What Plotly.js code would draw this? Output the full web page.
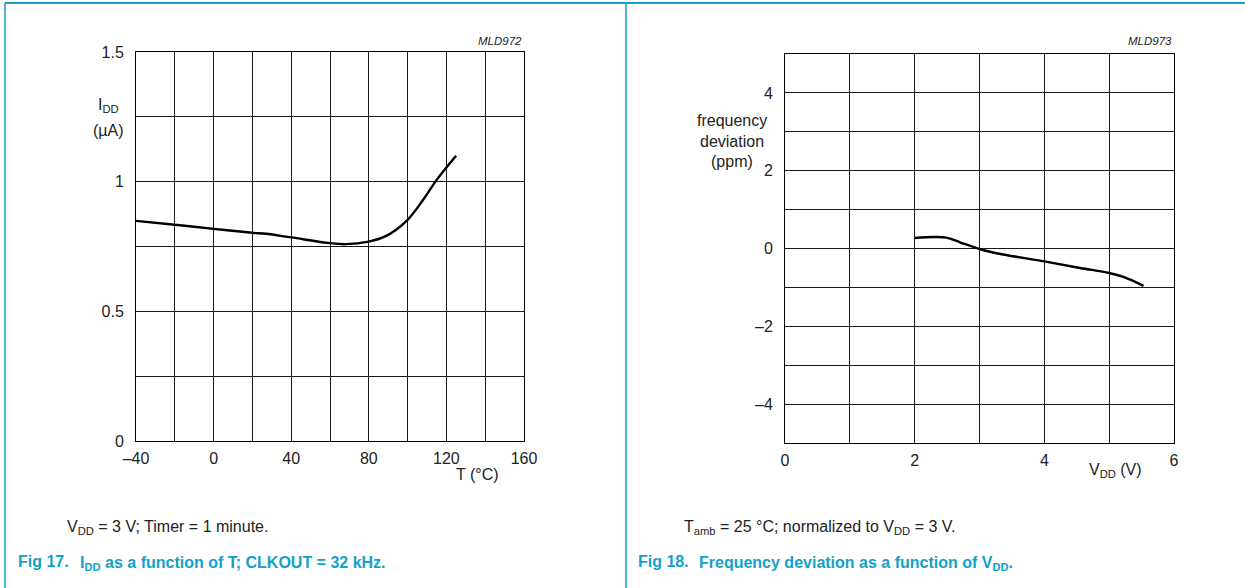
<!DOCTYPE html>
<html>
<head>
<meta charset="utf-8">
<script src="https://cdn.plot.ly/plotly-3.0.1.min.js"></script>
<style>
  html, body { margin: 0; padding: 0; background: #fff; }
  #chart { width: 1245px; height: 588px; }
</style>
</head>
<body>
<div id="chart"></div>
<script>
// ---- Data: Fig 17 (IDD vs T) ----
const tempC = [-40, -20, 0, 20, 27, 40, 60, 68, 80, 89, 100, 108, 115, 125];
const iddUA = [0.849, 0.834, 0.818, 0.803, 0.799, 0.785, 0.763, 0.759, 0.769, 0.791, 0.853, 0.930, 1.007, 1.100];

// ---- Data: Fig 18 (frequency deviation vs VDD) ----
const vddV = [2.0, 2.29, 2.49, 2.7, 3.0, 3.32, 4.0, 4.55, 5.0, 5.22, 5.53];
const freqDevPPM = [0.27, 0.296, 0.28, 0.16, -0.013, -0.14, -0.33, -0.50, -0.63, -0.73, -0.96];

// ---- Tick labels ----
const tTickVals = [-40, -20, 0, 20, 40, 60, 80, 100, 120, 140, 160];
const tTickText = ['\u201340', '', '0', '', '40', '', '80', '', '120', '', '160'];
const iTickVals = [0, 0.25, 0.5, 0.75, 1, 1.25, 1.5];
const iTickText = ['0', '', '0.5', '', '1', '', '1.5'];
const vTickVals = [0, 1, 2, 3, 4, 5, 6];
const vTickText = ['0', '', '2', '', '4', '', '6'];
const fTickVals = [-5, -4, -3, -2, -1, 0, 1, 2, 3, 4, 5];
const fTickText = ['', '\u20134', '', '\u20132', '', '0', '', '2', '', '4', ''];

const W = 1245, H = 588;
const px = x => x / W;
const py = y => 1 - y / H;

const FONT = 'Liberation Sans, Arial, sans-serif';
const CYAN = '#12a1c9';
const GRID = '#1a1a1a';
const TXT = '#222';

function axisBase(vals, text, range, standoff) {
  return {
    range: range, tickmode: 'array', tickvals: vals, ticktext: text,
    showgrid: true, gridcolor: GRID, gridwidth: 1,
    showline: true, linecolor: '#000', linewidth: 1, mirror: true,
    zeroline: false, ticks: '', ticklabelstandoff: standoff,
    tickfont: { family: FONT, size: 16, color: TXT },
    fixedrange: true
  };
}

const traces = [
  { x: tempC, y: iddUA, xaxis: 'x', yaxis: 'y', mode: 'lines',
    line: { color: '#000', width: 2.4, shape: 'spline', smoothing: 1 }, hoverinfo: 'skip' },
  { x: vddV, y: freqDevPPM, xaxis: 'x2', yaxis: 'y2', mode: 'lines',
    line: { color: '#000', width: 2.4, shape: 'spline', smoothing: 1 }, hoverinfo: 'skip' }
];

function ann(text, x, y, opts) {
  return Object.assign({
    text: text, xref: 'paper', yref: 'paper', x: px(x), y: py(y),
    xanchor: 'left', yanchor: 'middle', showarrow: false,
    font: { family: FONT, size: 16, color: TXT }
  }, opts || {});
}

const capFont = { family: FONT, size: 16, color: CYAN };
const smallItalic = { family: FONT, size: 11.5, color: TXT };

const annotations = [
  ann('<i>MLD972</i>', 524, 41, { xanchor: 'right', font: smallItalic }),
  ann('<i>MLD973</i>', 1174, 41, { xanchor: 'right', font: smallItalic }),
  ann('I<sub>DD</sub>', 108, 106, { xanchor: 'center' }),
  ann('(\u00b5A)', 108, 131, { xanchor: 'center' }),
  ann('T (\u00b0C)', 477, 474, { xanchor: 'center' }),
  ann('frequency', 732, 120, { xanchor: 'center' }),
  ann('deviation', 732, 141, { xanchor: 'center' }),
  ann('(ppm)', 732, 162, { xanchor: 'center' }),
  ann('V<sub>DD</sub> (V)', 1115, 470, { xanchor: 'center' }),
  ann('V<sub>DD</sub> = 3 V; Timer = 1 minute.', 65, 527),
  ann('T<sub>amb</sub> = 25 \u00b0C; normalized to V<sub>DD</sub> = 3 V.', 682, 527),
  ann('<b>Fig 17.</b>', 16, 561, { font: capFont }),
  ann('<b>I<sub>DD</sub> as a function of T; CLKOUT = 32 kHz.</b>', 78, 563, { font: capFont }),
  ann('<b>Fig 18.</b>', 636, 561, { font: capFont }),
  ann('<b>Frequency deviation as a function of V<sub>DD</sub>.</b>', 697, 563, { font: capFont })
];

const shapes = [
  { type: 'line', xref: 'paper', yref: 'paper', x0: px(5), x1: px(1245), y0: py(3), y1: py(3), line: { color: CYAN, width: 2 } },
  { type: 'line', xref: 'paper', yref: 'paper', x0: px(5), x1: px(5), y0: py(3), y1: 0, line: { color: CYAN, width: 1.5 } },
  { type: 'line', xref: 'paper', yref: 'paper', x0: px(626), x1: px(626), y0: py(3), y1: 0, line: { color: CYAN, width: 1.5 } }
];

const layout = {
  width: W, height: H,
  margin: { l: 0, r: 0, t: 0, b: 0 },
  paper_bgcolor: '#fff', plot_bgcolor: '#fff',
  showlegend: false,
  xaxis: Object.assign(axisBase(tTickVals, tTickText, [-40, 160], 3), { domain: [px(136), px(524)], anchor: 'y' }),
  yaxis: Object.assign(axisBase(iTickVals, iTickText, [0, 1.5], 8), { domain: [py(441), py(52)], anchor: 'x' }),
  xaxis2: Object.assign(axisBase(vTickVals, vTickText, [0, 6], 3), { domain: [px(785), px(1174)], anchor: 'y2' }),
  yaxis2: Object.assign(axisBase(fTickVals, fTickText, [-5, 5], 8), { domain: [py(443), py(54)], anchor: 'x2' }),
  annotations: annotations,
  shapes: shapes
};

Plotly.newPlot('chart', traces, layout, { staticPlot: true, displayModeBar: false });
</script>
</body>
</html>
